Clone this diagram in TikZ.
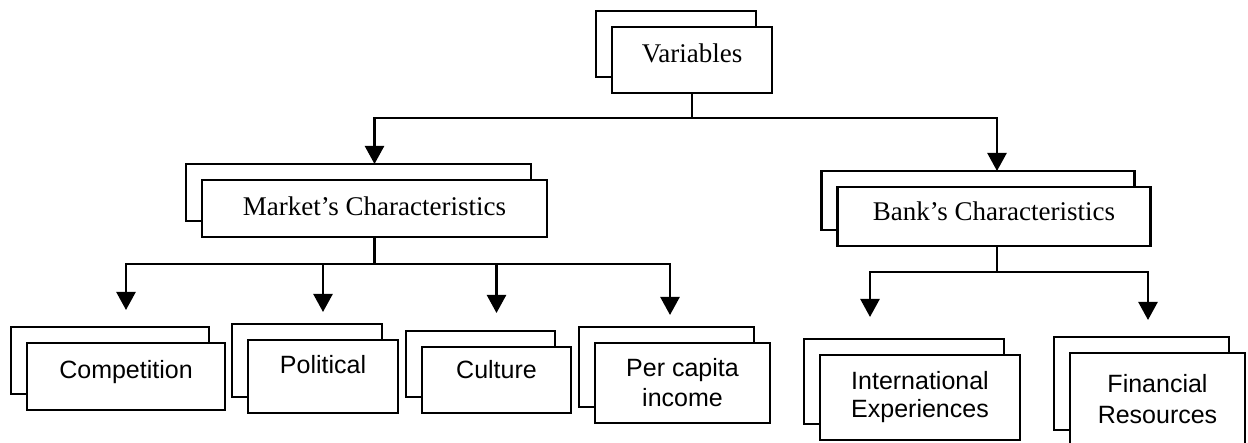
\documentclass[tikz,border=0pt]{standalone}
\usepackage{fontspec}
\setmainfont{Liberation Serif}
\setsansfont{Liberation Sans}
\usetikzlibrary{arrows.meta,backgrounds}

\tikzset{
  box/.style={draw, fill=white, line width=2.4pt, rectangle, inner sep=0pt,
    outer sep=0pt, align=center},
  backbox/.style={draw, line width=2.4pt},
  serifbox/.style={box, font=\rmfamily\fontsize{27}{31}\selectfont},
  sansbox/.style={box, font=\sffamily\fontsize{25}{30}\selectfont},
  link/.style={line width=2.4pt},
  arr/.style={link, -{Triangle[width=19pt,length=18pt]}},
}

\begin{document}
\begin{tikzpicture}[x=1pt, y=-1pt]
\useasboundingbox (0,0) rectangle (1248,443);
\clip (0,0) rectangle (1248,443);

% top level
\node[serifbox, minimum width=160pt, minimum height=66pt, text depth=14pt]
  (v) at (692,60) {Variables};

% second level
\node[serifbox, minimum width=345pt, minimum height=57pt, text depth=4pt]
  (m) at (374.5,208.5) {Market's Characteristics};
\node[serifbox, minimum width=313pt, minimum height=59pt, text depth=10pt]
  (b) at (994,216.5) {Bank's Characteristics};

% market factors
\node[sansbox, minimum width=198pt, minimum height=67pt, text depth=15pt]
  (c) at (126,376.5) {Competition};
\node[sansbox, minimum width=150pt, minimum height=73pt, text depth=24pt]
  (p) at (323,376.5) {Political};
\node[sansbox, minimum width=149pt, minimum height=66pt, text depth=22pt]
  (cu) at (496.5,380) {Culture};
\node[sansbox, minimum width=175pt, minimum height=80pt]
  (pc) at (682.5,383) {Per capita\\income};

% bank factors
\node[sansbox, minimum width=200pt, minimum height=85pt, font=\sffamily\fontsize{25}{28}\selectfont]
  (ie) at (920,397.5) {International\\Experiences};
\node[sansbox, minimum width=175pt, minimum height=93pt, font=\sffamily\fontsize{25}{31}\selectfont]
  (fr) at (1157.5,399.5) {Financial\\Resources};

% stacked sheet behind every box
\begin{pgfonlayer}{background}
  \foreach \n in {v,m,b,c,p,cu,pc,ie,fr}
    \draw[backbox] ([shift={(-16pt,16pt)}]\n.south west)
      rectangle ([shift={(-16pt,16pt)}]\n.north east);
\end{pgfonlayer}

% arrow ends above the stacked boxes
\coordinate (m-in)  at ([yshift=16pt]m.north);
\coordinate (b-in)  at ([xshift=3pt,yshift=16pt]b.north);
\coordinate (c-in)  at ([yshift=33pt]c.north);
\coordinate (p-in)  at ([yshift=28pt]p.north);
\coordinate (cu-in) at ([yshift=34pt]cu.north);
\coordinate (pc-in) at ([xshift=-12.5pt,yshift=28pt]pc.north);
\coordinate (ie-in) at ([xshift=-50pt,yshift=38pt]ie.north);
\coordinate (fr-in) at ([xshift=-9.5pt,yshift=33pt]fr.north);

% Variables -> characteristics
\draw[link] (v.south) -- (v.south |- 0,118) coordinate (jv);
\draw[arr] (jv) -| (m-in);
\draw[arr] (jv) -| (b-in);

% Market's -> factors
\draw[link] (m.south) -- (m.south |- 0,264) coordinate (jm);
\draw[arr] (jm) -| (c-in);
\draw[arr] (jm) -| (p-in);
\draw[arr] (jm) -| (cu-in);
\draw[arr] (jm) -| (pc-in);

% Bank's -> factors
\draw[link] ([xshift=3pt]b.south) -- ([xshift=3pt]b.south |- 0,272) coordinate (jb);
\draw[arr] (jb) -| (ie-in);
\draw[arr] (jb) -| (fr-in);
\end{tikzpicture}
\end{document}
